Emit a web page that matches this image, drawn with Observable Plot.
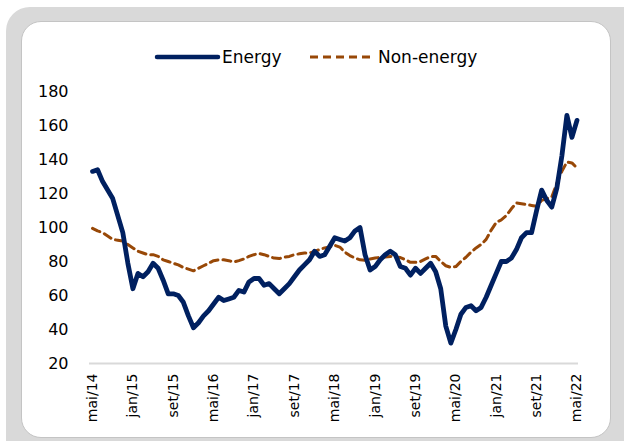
<!DOCTYPE html>
<html>
<head>
<meta charset="utf-8">
<script src="https://cdn.jsdelivr.net/npm/d3@7"></script>
<script src="https://cdn.jsdelivr.net/npm/@observablehq/plot@0.6"></script>
<style>
  html, body { margin: 0; padding: 0; background: #fff; }
  body { width: 624px; height: 441px; position: relative; overflow: hidden; font-family: "DejaVu Sans", sans-serif; }
  #outer { position: absolute; left: 6px; top: 7px; width: 660px; height: 470px; background: #d9d9d9; border-radius: 24px; }
  #inner { position: absolute; left: 21px; top: 21px; width: 588px; height: 415px; background: #fff; border-radius: 20px; border: 1px solid #c4c4c4; }
  #chart { position: absolute; left: 0; top: 0; }
  #legend { position: absolute; left: 0; top: 0; width: 624px; height: 80px; }
  .lg { position: absolute; font-size: 17px; color: #000; line-height: 20px; top: 47px; }
</style>
</head>
<body>
<div id="outer"></div>
<div id="inner"></div>
<div id="chart"></div>
<div id="legend">
  <svg width="624" height="80" style="position:absolute;left:0;top:0">
    <line x1="157" y1="57" x2="218" y2="57" stroke="#002060" stroke-width="4.5" stroke-linecap="round"/>
    <line x1="310" y1="57" x2="372" y2="57" stroke="#984807" stroke-width="3" stroke-dasharray="8,5"/>
  </svg>
  <span class="lg" style="left:222px">Energy</span>
  <span class="lg" style="left:378px">Non-energy</span>
</div>
<script>
// Monthly index, May 2014 (0) to May 2022 (96)
const tickPos = [0, 8, 16, 24, 32, 40, 48, 56, 64, 72, 80, 88, 96];
const tickLabels = ["mai/14","jan/15","set/15","mai/16","jan/17","set/17","mai/18","jan/19","set/19","mai/20","jan/21","set/21","mai/22"];
const yTicks = [20, 40, 60, 80, 100, 120, 140, 160, 180];

const energy = [
  133,134,127,122,117,107,97,79,64,73,71,74,
  79,76,69,61,61,60,56,48,41,44,48,51,
  55,59,57,58,59,63,62,68,70,70,66,67,
  64,61,64,67,71,75,78,81,86,83,84,89,
  94,93,92,94,98,100,84,75,77,81,84,86,
  84,77,76,72,76,73,76,79,74,64,42,32,
  40,49,53,54,51,53,59,66,73,80,80,82,
  87,94,97,97,110,122,116,112,123,142,166,153,
  163
];
const nonEnergy = [
  99.5,98,97,95,93,92.5,92,90,88,86,85,84,
  84,83,81,80,79,78,76.5,75.5,74.5,76,77.5,79,
  80.5,81,81,80.5,79.7,80.5,81.5,83,84,84.7,84,83,
  82,81.7,82.5,83,84,84.5,85,85,86,87,88,88.5,
  89.5,88.5,85.5,83.5,82,81,80.7,81.5,82,82.5,82.7,83,
  82.7,82.3,81,79.5,79.5,80,81.5,83,83,80,77.5,76.5,
  77,80,82.5,85.5,88,90,93,98.5,103,104.5,107,111,
  114.5,114,113.5,113,112.5,116,117,118,126,133,138.5,138,
  135
];

const idx = energy.map((_, i) => i);

const chart = Plot.plot({
  width: 624,
  height: 441,
  marginTop: 91,
  marginBottom: 78,
  marginLeft: 89,
  marginRight: 46,
  style: { background: "transparent", fontFamily: "DejaVu Sans", color: "#000", overflow: "visible" },
  x: { domain: [-0.6, 96.3] },
  y: { domain: [20, 180] },
  marks: [
    Plot.axisX({ ticks: tickPos, tickFormat: d => tickLabels[tickPos.indexOf(d)], tickSize: 0, tickPadding: 10, tickRotate: -90, fontSize: 14, label: null }),
    Plot.axisY({ ticks: yTicks, tickSize: 0, tickPadding: 21, fontSize: 16, label: null }),
    Plot.ruleY([20], { stroke: "#d9d9d9", strokeWidth: 2 }),
    Plot.line(idx, { x: d => d, y: d => nonEnergy[d], stroke: "#984807", strokeWidth: 3, strokeDasharray: "8,5" }),
    Plot.line(idx, { x: d => d, y: d => energy[d], stroke: "#002060", strokeWidth: 4.8, strokeLinejoin: "round" })
  ]
});
document.getElementById("chart").appendChild(chart);
</script>
</body>
</html>
